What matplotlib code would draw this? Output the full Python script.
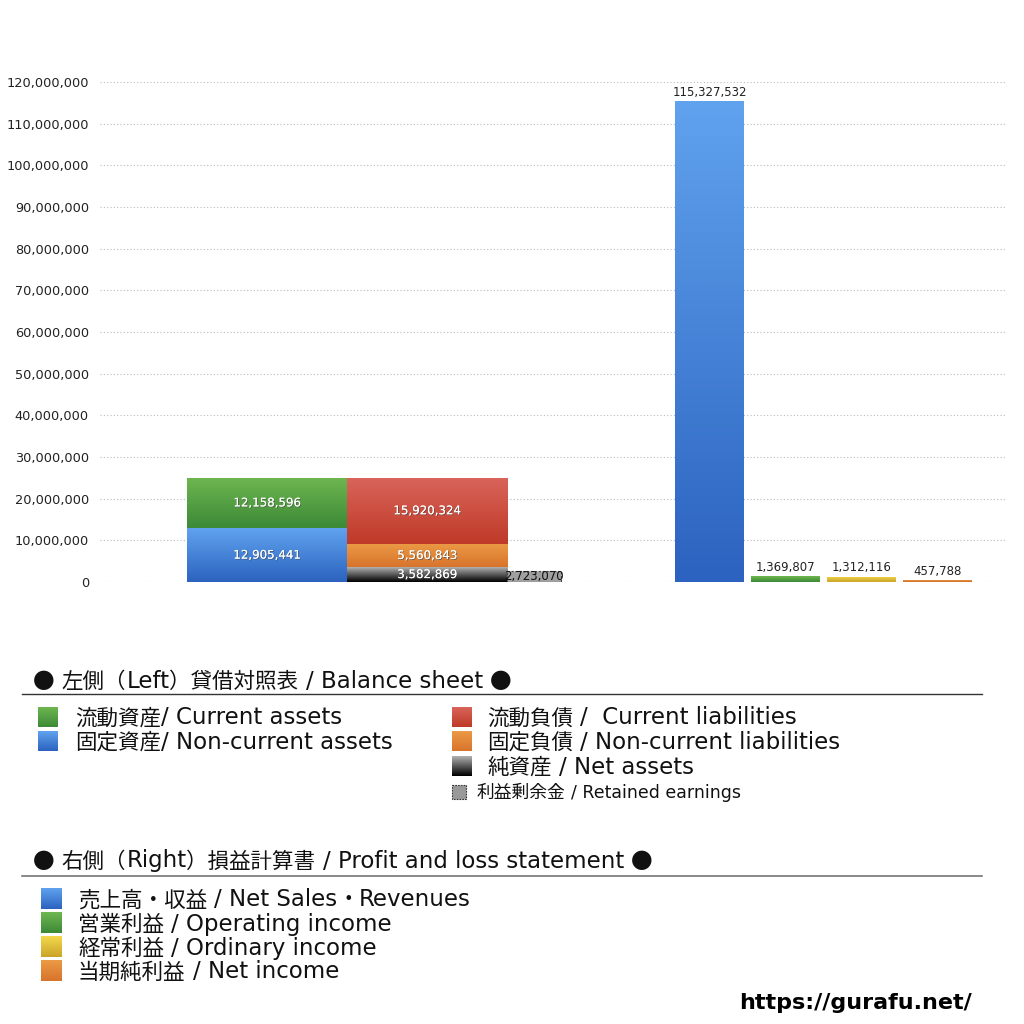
import numpy as np
import matplotlib.pyplot as plt
import matplotlib.patheffects as pe
from matplotlib.colors import LinearSegmentedColormap
from matplotlib.patches import Rectangle
from matplotlib.ticker import FuncFormatter

plt.rcParams['font.family'] = ['DejaVu Sans', 'Noto Sans CJK JP']

# balance sheet (left)
assets_labels = ['固定資産/ Non-current assets', '流動資産/ Current assets']
assets_values = [12905441, 12158596]
liab_labels = ['純資産 / Net assets', '固定負債 / Non-current liabilities', '流動負債 /  Current liabilities']
liab_values = [3582869, 5560843, 15920324]
retained_label = '利益剰余金 / Retained earnings'
retained_value = 2723070

# profit and loss (right)
pl_labels = ['売上高・収益 / Net Sales・Revenues', '営業利益 / Operating income',
             '経常利益 / Ordinary income', '当期純利益 / Net income']
pl_values = [115327532, 1369807, 1312116, 457788]

title_left = '● 左側（Left）貸借対照表 / Balance sheet ●'
title_right = '● 右側（Right）損益計算書 / Profit and loss statement ●'

yticks = np.arange(0, 120000001, 10000000)

# colours (top, bottom)
C_GREEN = ('#6db650', '#3d8a37')
C_BLUE = ('#60a2ee', '#2c63c0')
C_RED = ('#d9645a', '#bf3a28')
C_ORANGE = ('#eb9a45', '#d8742c')
C_BLACK = ('#b0b0b0', '#000000')
C_YELLOW = ('#f3d84c', '#caa42a')
C_NET = ('#e6923f', '#d06e2c')


def grad_rect(ax, x0, y0, w, h, cols, zorder=3):
    cmap = LinearSegmentedColormap.from_list('g', [cols[1], cols[0]])
    rect = Rectangle((x0, y0), w, h, facecolor='none', edgecolor='none')
    ax.add_patch(rect)
    im = ax.imshow(np.linspace(0, 1, 64).reshape(-1, 1), cmap=cmap, origin='lower',
                   extent=[x0, x0 + w, y0, y0 + h], aspect='auto', zorder=zorder,
                   interpolation='bilinear')
    im.set_clip_path(rect)
    return rect


fig = plt.figure(figsize=(10.24, 10.24), dpi=100)
renderer = fig.canvas.get_renderer()
ax = fig.add_axes([100 / 1024, 1 - 582 / 1024, 905 / 1024, 500 / 1024])
ax.set_xlim(0, 1)
ax.set_ylim(0, 120000000)

# bar positions (axes fraction)
x_assets, x_liab, x_ret = 0.1845, 0.3613, 0.4796
w_big, w_ret = 0.1768, 0.0597
x_pl = [0.6735, 0.7575, 0.8414, 0.9254]
w_pl = 0.0762

shadow = [pe.withSimplePatchShadow(offset=(0.6, -0.6), shadow_rgbFace='#444444', alpha=0.7), pe.Normal()]
LFS = 8.5

# assets stack
bottom = 0
for v, c in zip(assets_values, [C_BLUE, C_GREEN]):
    grad_rect(ax, x_assets - w_big / 2, bottom, w_big, v, c)
    ax.text(x_assets, bottom + v / 2, f'{v:,}', ha='center', va='center', fontsize=LFS,
            color='white', path_effects=shadow, zorder=5)
    bottom += v

# liabilities stack
bottom = 0
for v, c in zip(liab_values, [C_BLACK, C_ORANGE, C_RED]):
    grad_rect(ax, x_liab - w_big / 2, bottom, w_big, v, c)
    ax.text(x_liab, bottom + v / 2, f'{v:,}', ha='center', va='center', fontsize=LFS,
            color='white', path_effects=shadow, zorder=5)
    bottom += v

# retained earnings
ax.bar(x_ret, retained_value, width=w_ret, color='#a0a0a0', edgecolor='#444444',
       linestyle=(0, (2, 1.5)), linewidth=0.8, zorder=3)
ax.text(x_ret, retained_value / 2, f'{retained_value:,}', ha='center', va='center',
        fontsize=LFS, color='#111111', zorder=5)

# profit and loss
for x, v, c in zip(x_pl, pl_values, [C_BLUE, C_GREEN, C_YELLOW, C_NET]):
    grad_rect(ax, x - w_pl / 2, 0, w_pl, max(v, 450000), c)
    ax.text(x, max(v, 450000) + 500000, f'{v:,}', ha='center', va='bottom', fontsize=LFS,
            color='#222222', zorder=5)

ax.set_yticks(yticks)
ax.yaxis.set_major_formatter(FuncFormatter(lambda v, p: f'{int(v):,}'))
ax.tick_params(axis='y', length=0, labelsize=9.3, pad=8, labelcolor='#222222')
ax.set_xticks([])
ax.grid(axis='y', linestyle=(0, (1, 2)), color='#bbbbbb', linewidth=0.8)
ax.set_axisbelow(True)
for s in ax.spines.values():
    s.set_visible(False)

# legend area in pixel coordinates
lg = fig.add_axes([0, 0, 1, 1])
lg.set_xlim(0, 1024)
lg.set_ylim(1024, 0)
lg.axis('off')
lg.set_zorder(-1)


def is_cjk(ch):
    return ord(ch) >= 0x2E80 or ch in '●'


def mixed_text(x, y, s, cjk_size, lat_size):
    # draw a string as runs: CJK glyphs in Noto Sans CJK, latin in DejaVu Sans
    runs = []
    for ch in s:
        k = is_cjk(ch)
        if runs and runs[-1][0] == k:
            runs[-1][1] += ch
        else:
            runs.append([k, ch])
    space_w = 0.318 * lat_size * 100 / 72
    for k, run in runs:
        core = run.strip(' ')
        if not core:
            x += len(run) * space_w
            continue
        lead = len(run) - len(run.lstrip(' '))
        trail = len(run) - len(run.rstrip(' '))
        x += lead * space_w
        fam = 'Noto Sans CJK JP' if k else 'DejaVu Sans'
        t = lg.text(x, y, core, fontsize=cjk_size if k else lat_size, family=fam,
                    va='baseline', ha='left', color='#111111')
        x += t.get_window_extent(renderer).width
        x += trail * space_w


def legend_square(x, y, size, cols):
    cmap = LinearSegmentedColormap.from_list('g', [cols[0], cols[1]])
    lg.imshow(np.linspace(0, 1, 32).reshape(-1, 1), cmap=cmap,
              extent=[x, x + size, y + size / 2, y - size / 2], aspect='auto', interpolation='bilinear')


CJ, LA = 15.5, 16.5
BASE = 7.5

mixed_text(33, 680 + BASE, title_left, CJ, LA)
lg.plot([22, 982], [694, 694], color='#333333', lw=1)

rows_left = [(assets_labels[1], C_GREEN), (assets_labels[0], C_BLUE)]
for i, (lab, c) in enumerate(rows_left):
    y = 717 + i * 24.5
    legend_square(38, y, 20, c)
    mixed_text(75, y + BASE, lab, CJ, LA)

rows_right = [(liab_labels[2], C_RED), (liab_labels[1], C_ORANGE), (liab_labels[0], C_BLACK)]
for i, (lab, c) in enumerate(rows_right):
    y = 717 + i * 24.5
    legend_square(452, y, 20, c)
    mixed_text(487, y + BASE, lab, CJ, LA)

lg.add_patch(Rectangle((452, 785), 14, 14, facecolor='#999999', edgecolor='#333333',
                       linestyle=(0, (1.5, 1)), lw=0.8))
mixed_text(477, 792 + 6, retained_label, 12.8, 12.5)

mixed_text(33, 860 + BASE, title_right, CJ, LA)
lg.plot([22, 982], [876, 876], color='#777777', lw=1.2)

for i, (lab, c) in enumerate(zip(pl_labels, [C_BLUE, C_GREEN, C_YELLOW, C_ORANGE])):
    y = 899 + i * 24
    legend_square(41, y, 21, c)
    mixed_text(78, y + BASE, lab, CJ, LA)

lg.text(972, 1003, 'https://gurafu.net/', fontsize=16, fontweight='bold', va='center', ha='right')

fig.savefig('out.png', dpi=100)
